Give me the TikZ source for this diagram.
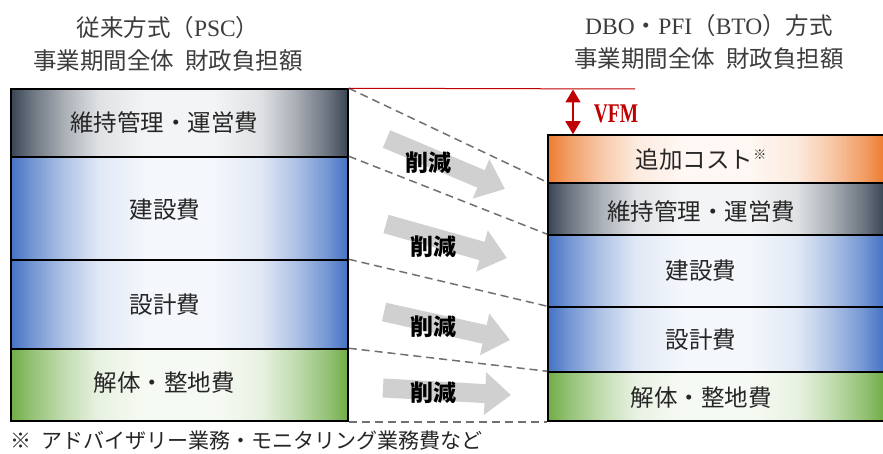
\documentclass[tikz,border=0pt]{standalone}
\usepackage{fontspec}
\setmainfont{Noto Sans CJK JP}
\newfontfamily\latinserif{Liberation Serif}
\usetikzlibrary{arrows.meta}
\definecolor{blueE}{HTML}{4472C4}
\definecolor{grayE}{HTML}{3A4555}
\definecolor{greenE}{HTML}{70AD47}
\definecolor{orangeE}{HTML}{ED7D31}
\definecolor{vfmred}{HTML}{C00000}
\definecolor{arrowgray}{HTML}{D0D0D0}
\definecolor{dashgray}{HTML}{707070}
\definecolor{txt}{HTML}{262626}
\newcommand\mkshade[2]{\pgfdeclarehorizontalshading{#1}{100bp}{%
 color(0bp)=(#2); color(25bp)=(#2); color(28bp)=(#2!75!white);
 color(33bp)=(#2!42!white); color(38bp)=(#2!16!white); color(45bp)=(#2!6!white);
 color(55bp)=(#2!6!white); color(62bp)=(#2!16!white); color(67bp)=(#2!42!white);
 color(72bp)=(#2!75!white); color(75bp)=(#2); color(100bp)=(#2)}}
\mkshade{blueshade}{blueE}
\mkshade{grayshade}{grayE}
\mkshade{greenshade}{greenE}
\mkshade{orangeshade}{orangeE}
\begin{document}
\begin{tikzpicture}[x=1pt,y=-1pt,
  box/.style={draw=black, line width=1.5pt, inner sep=0pt},
  lcol/.style={box, minimum width=337pt},
  rcol/.style={box, minimum width=336pt},
  lbl/.style={text=txt, font=\fontsize{23.5}{28}\selectfont, inner sep=0pt},
  ttl/.style={text=txt!90!white, font=\fontsize{23.5}{33}\selectfont, align=center, inner sep=0pt},
  cut/.style={text=black, font=\bfseries\fontsize{23}{28}\selectfont, inner sep=0pt},
  fat/.style={line width=19pt, arrowgray, -{Triangle[length=26pt,width=41pt]}},
  dashline/.style={dashgray, line width=1.5pt, dash pattern=on 8pt off 5pt}]
\useasboundingbox (0,0) rectangle (883,454);

% titles
\node[ttl] (t1) at (168,44) {従来方式（{\latinserif PSC}）\\事業期間全体\hspace{0.45em}財政負担額};
\node[ttl] (t2) at (709,42) {{\latinserif DBO}・{\latinserif PFI}（{\latinserif BTO}）方式\\事業期間全体\hspace{0.45em}財政負担額};

% left column
\node[lcol, shading=grayshade, minimum height=68pt] (L1) at (179.5,123) {};
\node[lcol, shading=blueshade, minimum height=103pt] (L2) at (179.5,208.5) {};
\node[lcol, shading=blueshade, minimum height=89pt] (L3) at (179.5,304.5) {};
\node[lcol, shading=greenshade, minimum height=72pt] (L4) at (179.5,385) {};

% right column
\node[rcol, shading=orangeshade, minimum height=48pt] (R0) at (716,159) {};
\node[rcol, shading=grayshade, minimum height=52pt] (R1) at (716,209) {};
\node[rcol, shading=blueshade, minimum height=72pt] (R2) at (716,271) {};
\node[rcol, shading=blueshade, minimum height=65pt] (R3) at (716,339.5) {};
\node[rcol, shading=greenshade, minimum height=49pt] (R4) at (716,396.5) {};

% labels
\node[lbl] (l1) at (164,123) {維持管理・運営費};
\node[lbl] (l2) at (165,210) {建設費};
\node[lbl] (l3) at (165,305) {設計費};
\node[lbl] (l4) at (164,383) {解体・整地費};
\node[lbl] (r0) at (701,160) {追加コスト\raisebox{0.42em}{\fontsize{13}{13}\selectfont ※}};
\node[lbl] (r1) at (701,212) {維持管理・運営費};
\node[lbl] (r2) at (701,271) {建設費};
\node[lbl] (r3) at (701,340) {設計費};
\node[lbl] (r4) at (701,398) {解体・整地費};

% dashed connectors
\draw[dashline] (L1.north east) -- (R1.north west);
\draw[dashline] (L2.north east) -- (R2.north west);
\draw[dashline] (L3.north east) -- (R3.north west);
\draw[dashline] (L4.north east) -- (R4.north west);
\draw[dashline] (L4.south east) -- (R4.south west);

% fat grey arrows
\coordinate (a1s) at (386.5,139); \coordinate (a1e) at (505,189);
\coordinate (a2s) at (386,224);   \coordinate (a2e) at (507,258);
\coordinate (a3s) at (384,312);   \coordinate (a3e) at (510,340);
\coordinate (a4s) at (383,388);   \coordinate (a4e) at (511,395);
\draw[fat] (a1s) -- (a1e);
\draw[fat] (a2s) -- (a2e);
\draw[fat] (a3s) -- (a3e);
\draw[fat] (a4s) -- (a4e);
\node[cut] (c1) at (428,163) {削減};
\node[cut] (c2) at (433,247) {削減};
\node[cut] (c3) at (433,327) {削減};
\node[cut] (c4) at (433,393) {削減};

% VFM
\coordinate (redEnd) at (635,89);
\draw[vfmred, line width=1pt] (L1.north east) -- (redEnd);
\coordinate (va) at (573,89.5);
\draw[vfmred, line width=1.6pt, {Triangle[length=13pt,width=15pt]}-{Triangle[length=13pt,width=15pt]}] (va) -- (va |- R0.north);
\node[text=vfmred, font=\latinserif\bfseries\fontsize{27}{27}\selectfont, xscale=0.72, inner sep=0pt] (vfm) at (616,114) {VFM};

% footnote
\node[lbl, anchor=west, font=\fontsize{21}{24}\selectfont] (fn) at (10,441) {※\hspace{0.5em}アドバイザリー業務・モニタリング業務費など};
\end{tikzpicture}
\end{document}
